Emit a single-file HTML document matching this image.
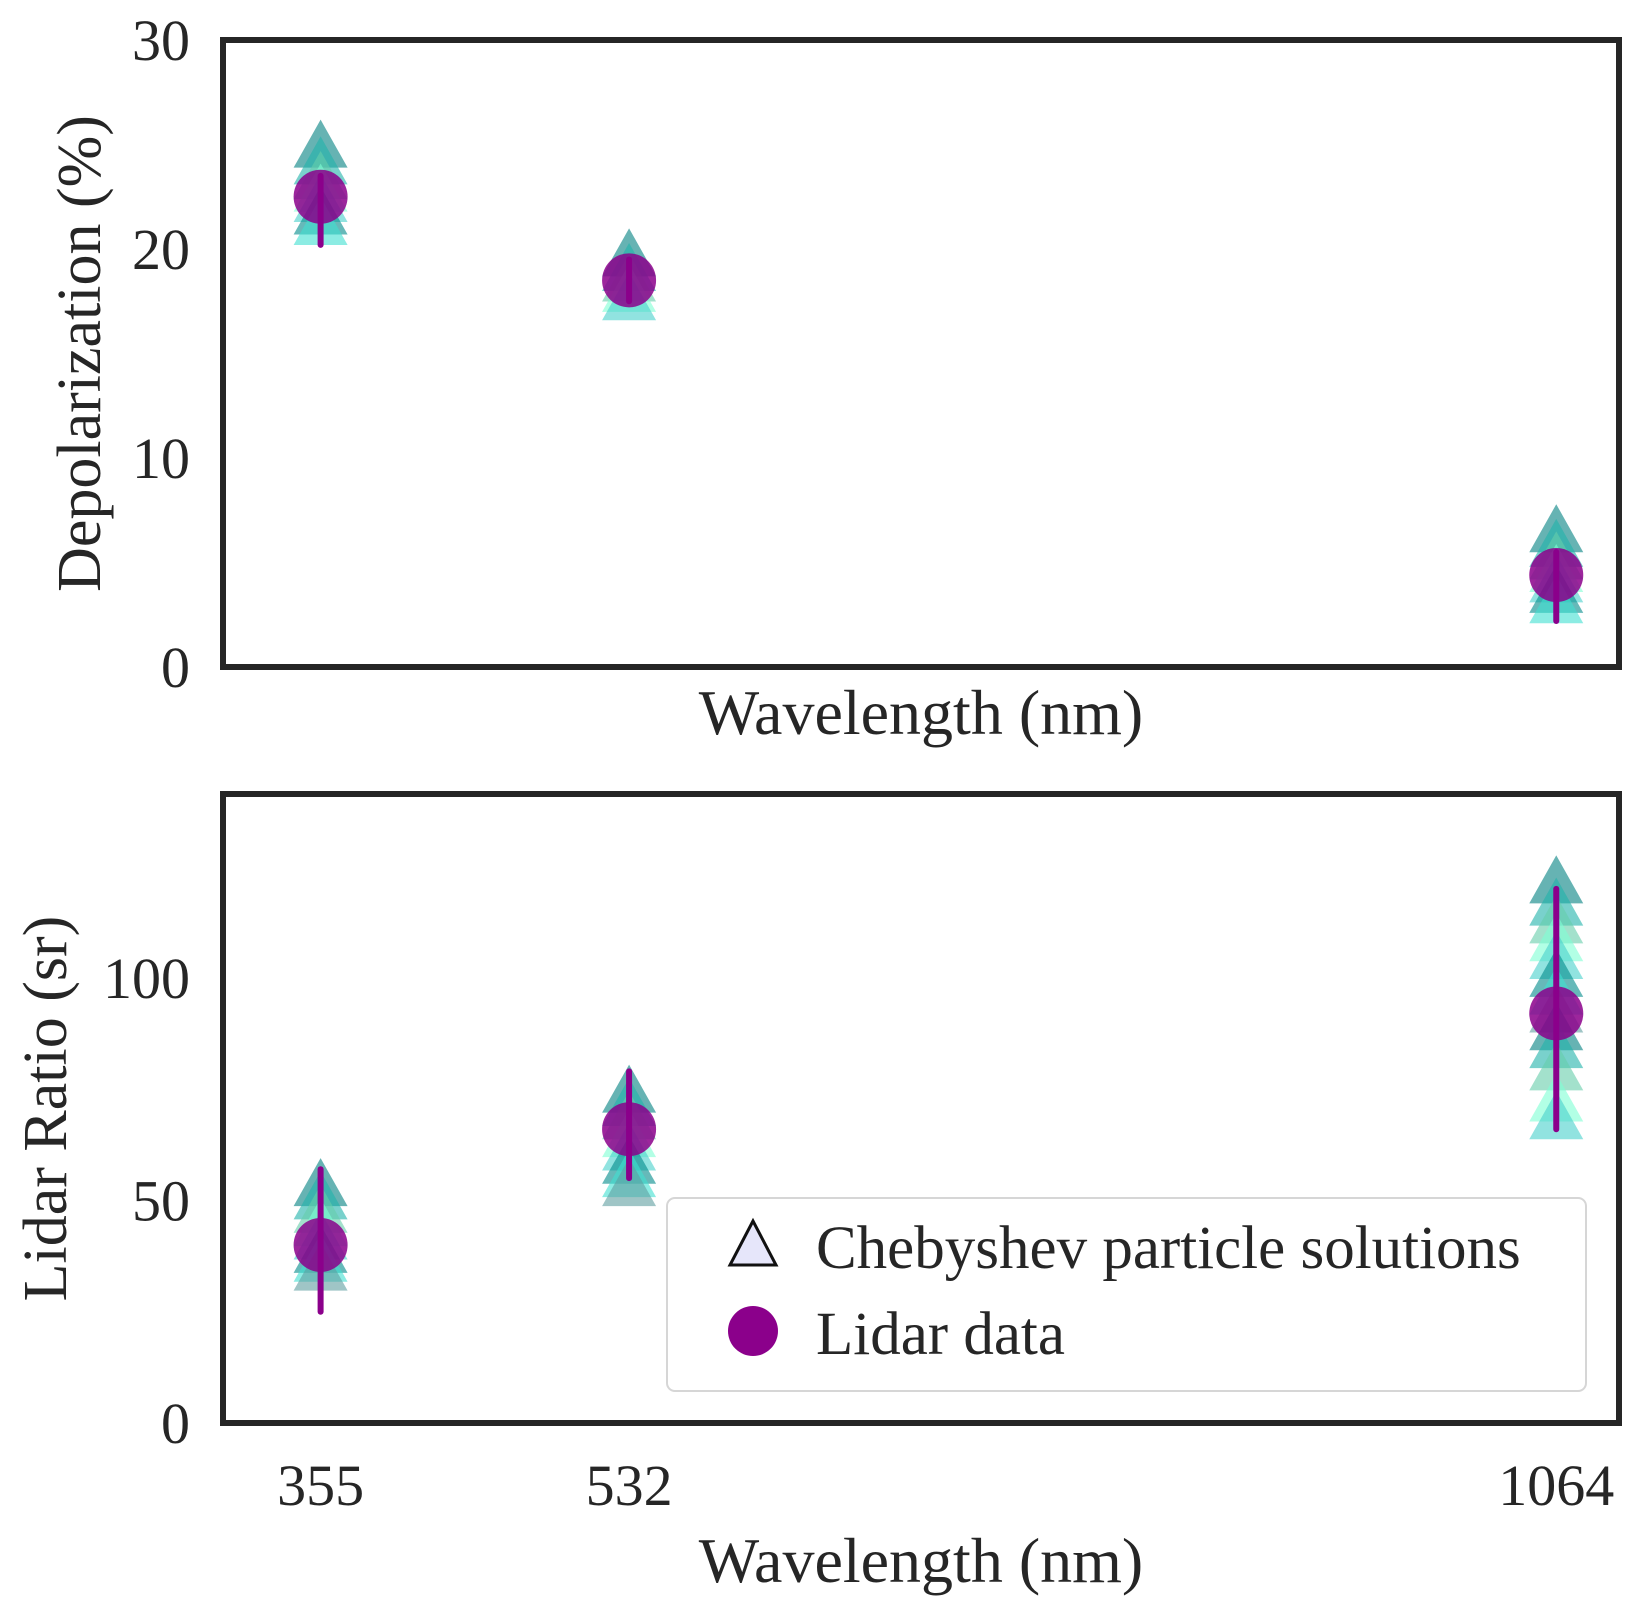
<!DOCTYPE html>
<html><head><meta charset="utf-8"><style>
html,body{margin:0;padding:0;background:#fff}
svg{display:block}
text{font-family:"Liberation Serif",serif;fill:#262626}
</style></head><body>
<svg id="c" width="1643" height="1616" viewBox="0 0 1643 1616" xmlns="http://www.w3.org/2000/svg">
<g id="g"></g>
</svg>
<script>
const wavelengths=[355,532,1064];
const depolLidar=[22.5,18.5,4.4];
const depolErrLo=[20.2,17.5,2.2];
const depolErrHi=[23.5,19.5,5.5];
const depolTri355=[24.8,24.0,23.3,22.7,22.2,21.6,21.1];
const depolTri532=[19.6,18.9,18.4,17.9,17.5];
const depolTri1064=[6.4,5.7,5.1,4.5,4.0,3.5,3.0];
const lrLidar=[40,66,92];
const lrErrLo=[25,55,66];
const lrErrHi=[57,79,120];
const lrTri355=[53,50,47,44,41,38,36,34];
const lrTri532=[74,71,68,64,61,58,55,53];
const lrTri1064=[121,116,112,108,104,100,96,92,88,84,79,72,68];
const depolTicks=[0,10,20,30];
const lrTicks=[0,50,100];
const triColors=['#008080','#20b2aa','#66cdaa','#7fffd4','#48d1cc','#008b8b','#40e0d0','#5f9ea0'];

const NS='http://www.w3.org/2000/svg';
const g=document.getElementById('g');
function el(t,a,p){const e=document.createElementNS(NS,t);for(const k in a)e.setAttribute(k,a[k]);(p||g).appendChild(e);return e;}
function xs(w){return 223+(w-299)*(1619-223)/(1100-299);}
function panel(name,top,bot,ymax,ticks,lidar,lo,hi,tris,ylab,ylabX){
  const ys=v=>bot-(v/ymax)*(bot-top);
  const grp=el('g',{});
  
  
  tris.forEach((arr,i)=>{const cx=xs(wavelengths[i]);arr.forEach((v,j)=>{const cy=ys(v);
    const t=el('polygon',{points:`${cx},${cy-29} ${cx-27},${cy+19} ${cx+27},${cy+19}`,fill:triColors[j%triColors.length],'fill-opacity':0.6},grp);
    
    });});
  lidar.forEach((v,i)=>{const cx=xs(wavelengths[i]);
    const l=el('line',{x1:cx,x2:cx,y1:ys(lo[i]),y2:ys(hi[i]),stroke:'#8b008b','stroke-width':6,'stroke-linecap':'round'},grp);
    
    
    const c=el('circle',{cx:cx,cy:ys(v),r:27,fill:'#8b008b','fill-opacity':0.85},grp);
    
    });
  const f=el('rect',{x:223,y:top,width:1396,height:bot-top,fill:'none',stroke:'#262626','stroke-width':6},grp);
  
  
  ticks.forEach(v=>{const t=el('text',{x:190,y:ys(v)+20,'text-anchor':'end','font-size':58},grp);t.textContent=v;
    
    });
  const yl=el('text',{x:0,y:0,'text-anchor':'middle','font-size':62,transform:`translate(${ylabX},${(top+bot)/2}) rotate(-90)`},grp);
  yl.textContent=ylab;
  
  
}
panel('depolarization-panel',40,667,30,depolTicks,depolLidar,depolErrLo,depolErrHi,[depolTri355,depolTri532,depolTri1064],'Depolarization (%)',100);
panel('lidar-ratio-panel',794,1423,141.3,lrTicks,lrLidar,lrErrLo,lrErrHi,[lrTri355,lrTri532,lrTri1064],'Lidar Ratio (sr)',66);
[734,1582].forEach(y=>{const t=el('text',{x:921,y:y,'text-anchor':'middle','font-size':64});t.textContent='Wavelength (nm)';
  
  });
wavelengths.forEach(w=>{const t=el('text',{x:xs(w),y:1505,'text-anchor':'middle','font-size':58});t.textContent=w;
  
  });
const lg=el('g',{});


el('rect',{x:667,y:1198,width:919,height:193,rx:8,fill:'#fff',stroke:'#d6d6d6','stroke-width':2},lg);
const lt=el('polygon',{points:'753,1221 730,1265 776,1265',fill:'#e6e6fa',stroke:'#111','stroke-width':3},lg);


const lc=el('circle',{cx:753,cy:1331,r:25,fill:'#8b008b'},lg);


const t1=el('text',{x:816,y:1268,'font-size':61},lg);t1.textContent='Chebyshev particle solutions';


const t2=el('text',{x:816,y:1354,'font-size':61},lg);t2.textContent='Lidar data';


</script>
</body></html>
